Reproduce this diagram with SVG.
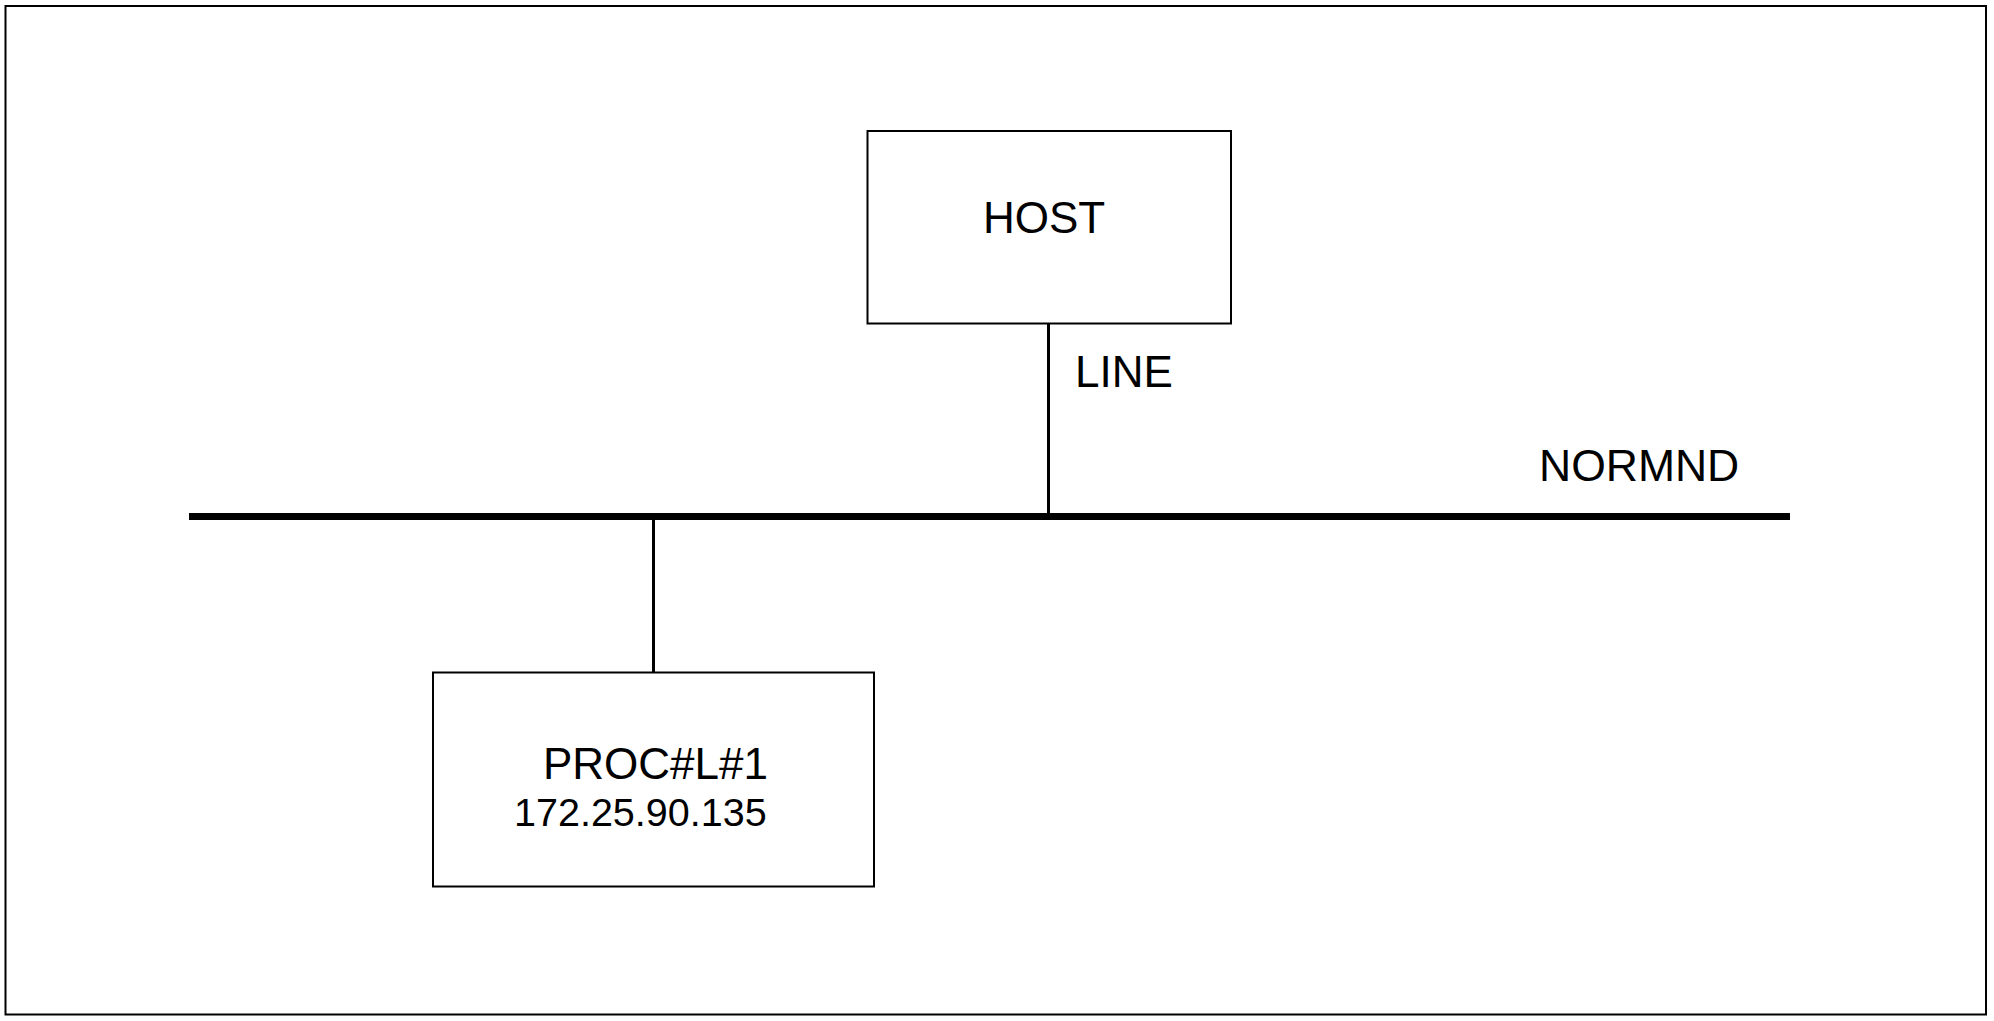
<svg xmlns="http://www.w3.org/2000/svg" width="1994" height="1021" viewBox="0 0 1994 1021">
<style>
.box{fill:#fff;stroke:#000;stroke-width:2}
.lbl{font-family:"Liberation Sans",Arial,sans-serif;fill:#000}
.wire{stroke:#000;stroke-width:3;fill:none}
.bus{stroke:#000;stroke-width:7;fill:none}
</style>
<rect x="0" y="0" width="1994" height="1021" fill="#fff"/>
<rect x="5.5" y="6" width="1980.5" height="1008.5" fill="none" stroke="#000" stroke-width="2"/>
<g id="connectors">
<line class="bus" x1="189" y1="516.5" x2="1790" y2="516.5"/>
<line class="wire" x1="1048.5" y1="323" x2="1048.5" y2="516"/>
<line class="wire" x1="653.5" y1="516" x2="653.5" y2="672"/>
</g>
<g id="normnd">
<text class="lbl" x="1539" y="481" font-size="44.5">NORMND</text>
</g>
<g id="line-label">
<text class="lbl" x="1075" y="387" font-size="44">LINE</text>
</g>
<g id="host">
<rect class="box" x="867.5" y="131" width="363.5" height="192.5"/>
<text class="lbl" x="983" y="233" font-size="44">HOST</text>
</g>
<g id="proc">
<rect class="box" x="433" y="672.5" width="441" height="214"/>
<text class="lbl" x="543" y="779" font-size="44">PROC#L#1</text>
<text class="lbl" x="514" y="826" font-size="39.5">172.25.90.135</text>
</g>
</svg>
